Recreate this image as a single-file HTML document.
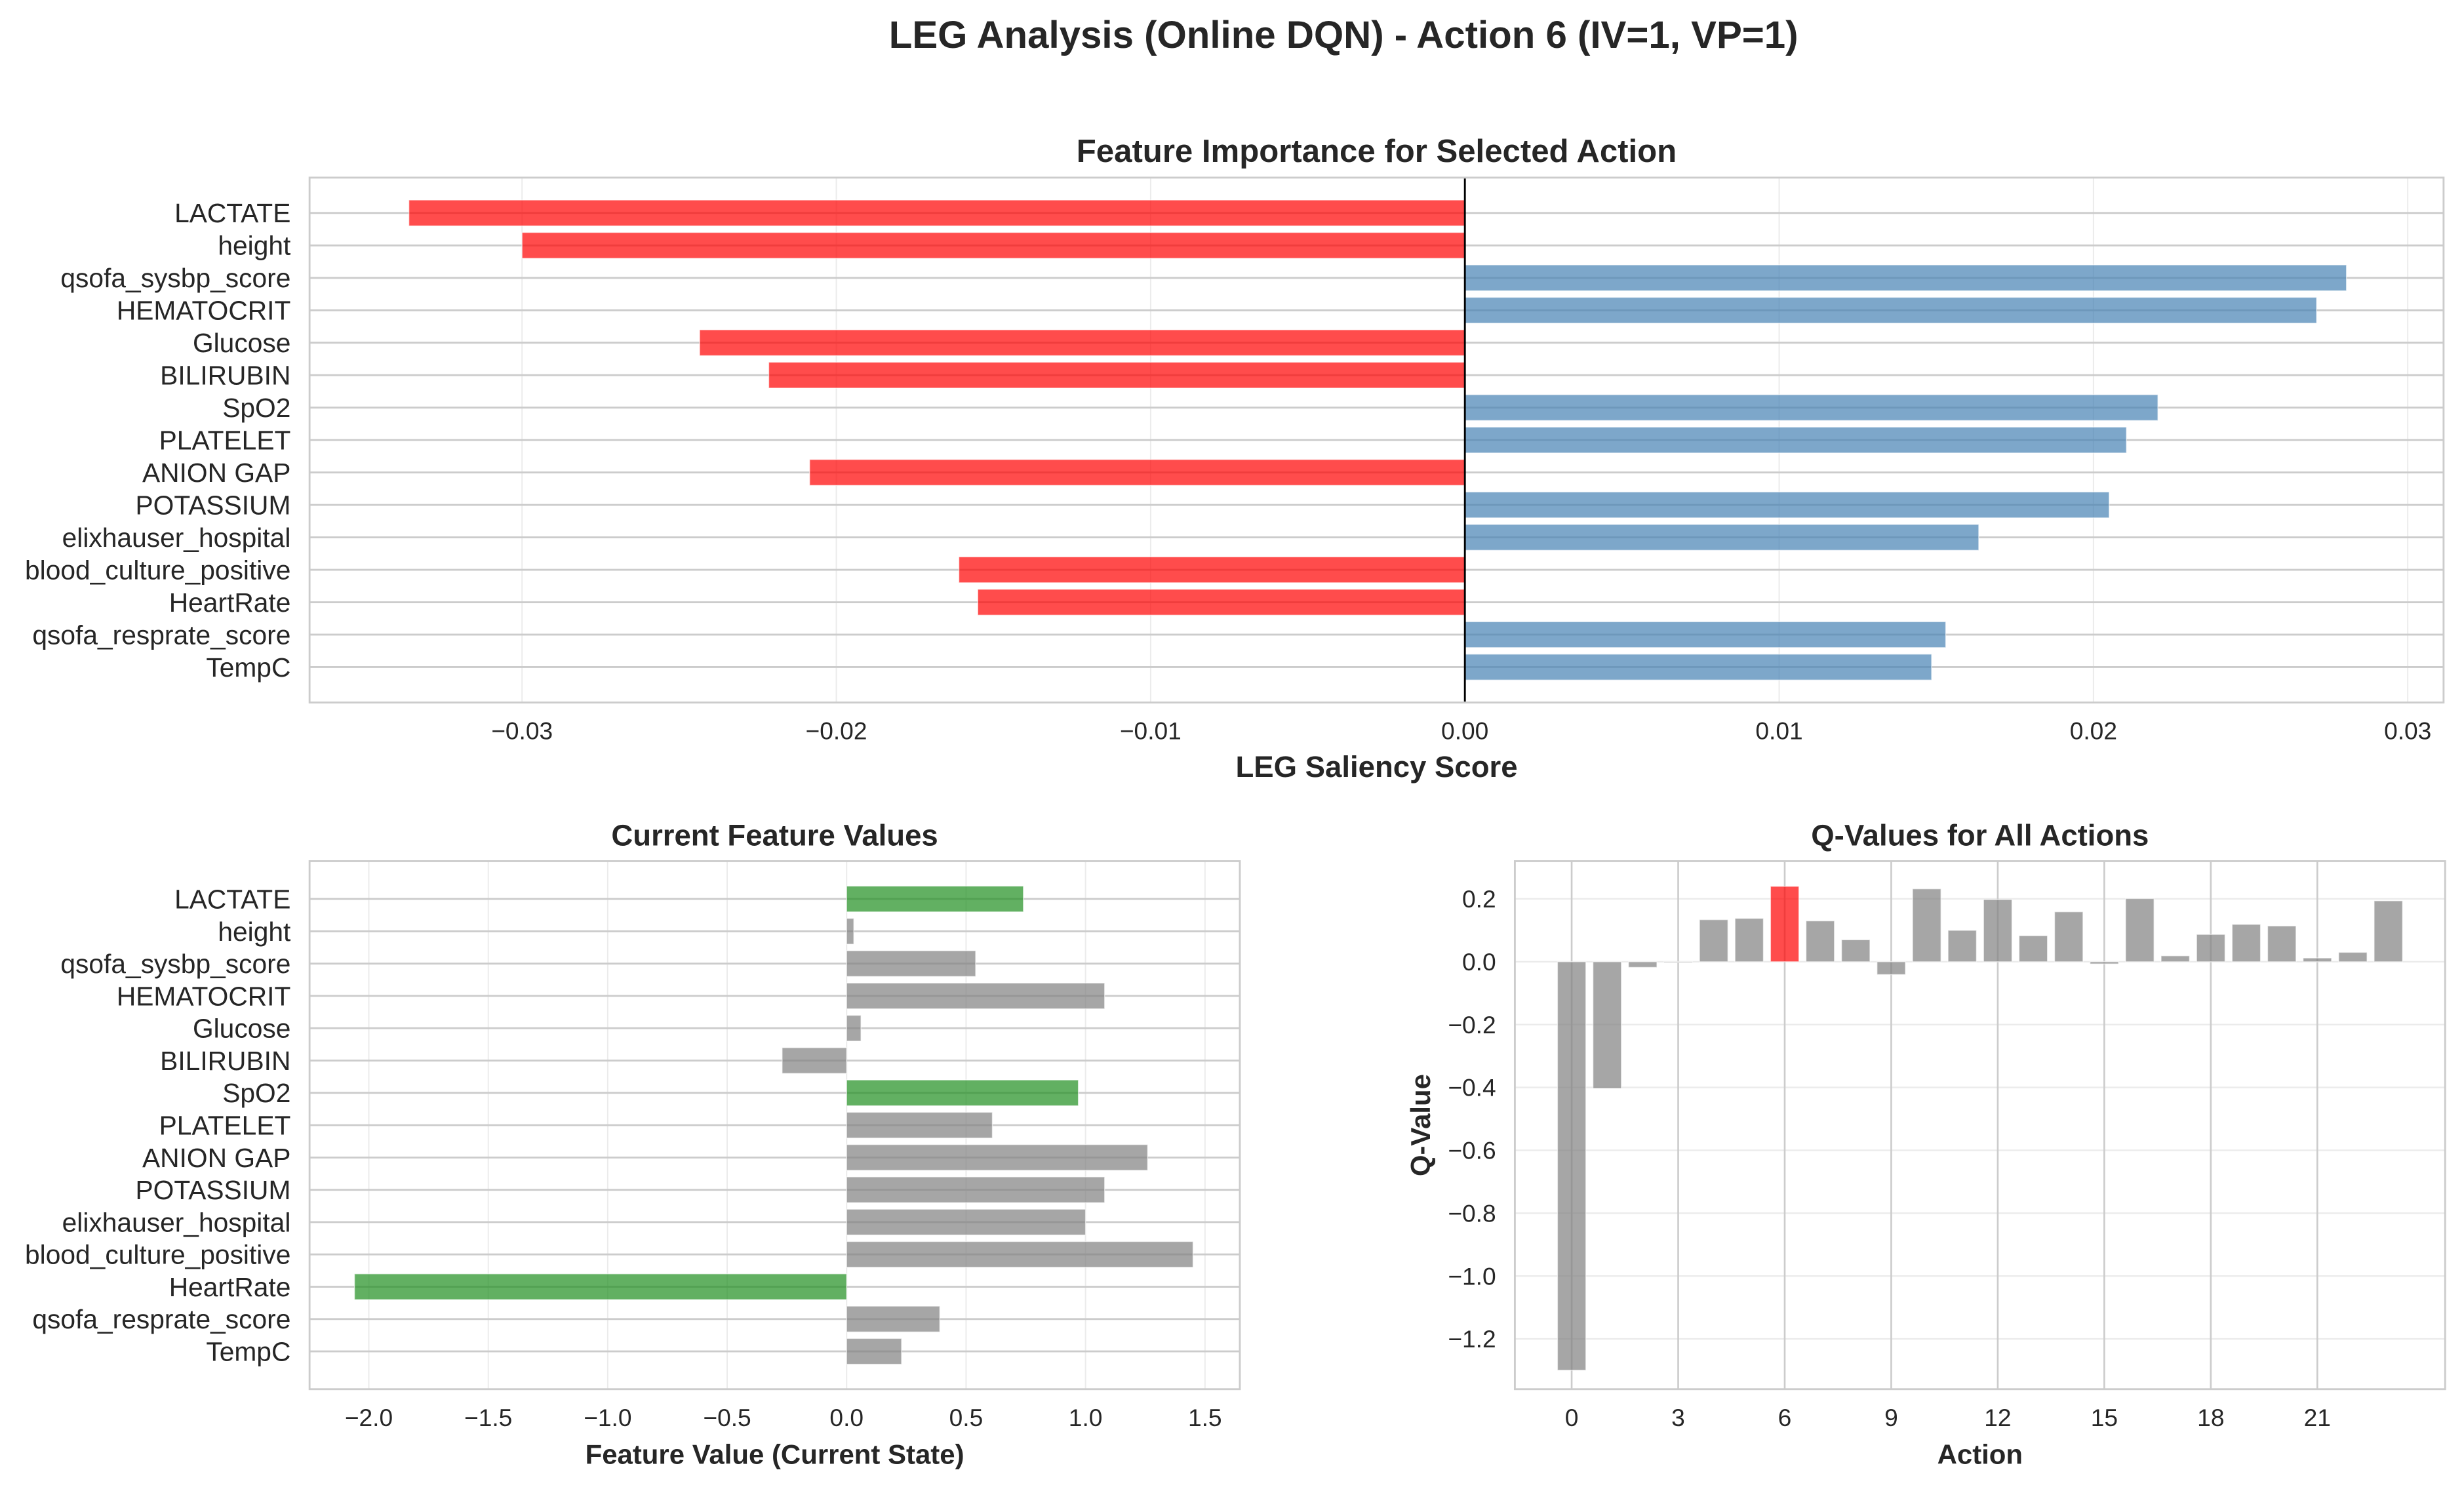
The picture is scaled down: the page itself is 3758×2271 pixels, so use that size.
<!DOCTYPE html>
<html><head><meta charset="utf-8"><style>
html,body{margin:0;padding:0;background:#fff}
svg{display:block;font-family:"Liberation Sans",Arial,sans-serif}
</style></head><body>
<svg id="fig" xmlns="http://www.w3.org/2000/svg" width="3758" height="2271" viewBox="0 0 1568 947.5">
<rect width="1568" height="947.5" fill="#fff"/>
<text x="855" y="30.5" text-anchor="middle" font-size="24.3" font-weight="bold" fill="#262626">LEG Analysis (Online DQN) - Action 6 (IV=1, VP=1)</text>
<g id="top"></g>
<g id="bl"></g>
<g id="br"></g>
</svg>
<script>
const features = ["LACTATE","height","qsofa_sysbp_score","HEMATOCRIT","Glucose","BILIRUBIN","SpO2","PLATELET","ANION GAP","POTASSIUM","elixhauser_hospital","blood_culture_positive","HeartRate","qsofa_resprate_score","TempC"];
const saliency = [-0.0336,-0.0300,0.02805,0.0271,-0.02435,-0.02215,0.02205,0.02105,-0.02085,0.0205,0.01635,-0.0161,-0.0155,0.0153,0.01485];
const featureValues = [0.74,0.03,0.54,1.08,0.06,-0.27,0.97,0.61,1.26,1.08,1.00,1.45,-2.06,0.39,0.23];
const highlighted = ["LACTATE","SpO2","HeartRate"];
const qValues = [-1.30,-0.403,-0.018,-0.003,0.134,0.138,0.24,0.13,0.07,-0.041,0.232,0.10,0.198,0.083,0.159,-0.007,0.201,0.019,0.087,0.119,0.114,0.012,0.030,0.194];
const selectedAction = 6;
const salTicks = [-0.03,-0.02,-0.01,0,0.01,0.02,0.03];
const salTickLabels = ["\u22120.03","\u22120.02","\u22120.01","0.00","0.01","0.02","0.03"];
const fvTicks = [-2,-1.5,-1,-0.5,0,0.5,1,1.5];
const fvTickLabels = ["\u22122.0","\u22121.5","\u22121.0","\u22120.5","0.0","0.5","1.0","1.5"];
const qTicks = [0.2,0,-0.2,-0.4,-0.6,-0.8,-1.0,-1.2];
const qTickLabels = ["0.2","0.0","\u22120.2","\u22120.4","\u22120.6","\u22120.8","\u22121.0","\u22121.2"];
const actionTicks = [0,3,6,9,12,15,18,21];

const NS="http://www.w3.org/2000/svg";
const YT=17, XT=15.5;
function mk(parent,tag,attrs,text){const e=document.createElementNS(NS,tag);for(const k in attrs)e.setAttribute(k,attrs[k]);if(text!==undefined)e.textContent=text;parent.appendChild(e);return e;}

function hbarChart(g,box,xmin,xmax,margin,vals,colorFn,ticks,tickLabels,title,xlabel,zeroLine,names){
  const {l,r,t,b}=box;
  const sx=v=>l+(v-xmin)/(xmax-xmin)*(r-l);
  const n=features.length;
  const ymin=-margin,ymax=n-1+margin;
  const sy=i=>t+(i-ymin)/(ymax-ymin)*(b-t);
  const bg=mk(g,'rect',{x:l,y:t,width:r-l,height:b-t,fill:'#fff'});
  
  
  ticks.forEach((v,i)=>{
    const x=sx(v);
    const gl=mk(g,'line',{x1:x,x2:x,y1:t,y2:b,stroke:'#ebebeb','stroke-width':0.8});
    
    
    const tl=mk(g,'text',{x:x,y:b+23.5,'text-anchor':'middle','font-size':XT,fill:'#262626'},tickLabels[i]);
    
    
  });
  features.forEach((f,i)=>{
    const y=sy(i);
    const gl=mk(g,'line',{x1:l,x2:r,y1:y,y2:y,stroke:'#cccccc','stroke-width':1.2});
    
    
    const tl=mk(g,'text',{x:l-12,y:y+6,'text-anchor':'end','font-size':YT,fill:'#262626'},f);
    
    
  });
  const h=(sy(1)-sy(0))*0.8;
  vals.forEach((v,i)=>{
    const x0=sx(0),x1=sx(v);
    const rc=mk(g,'rect',{x:Math.min(x0,x1),y:sy(i)-h/2,width:Math.abs(x1-x0),height:h,fill:colorFn(v,i),'fill-opacity':0.7,stroke:'#fff','stroke-opacity':0.6,'stroke-width':0.6});
    
    
  });
  if(zeroLine){const z=mk(g,'line',{x1:sx(0),x2:sx(0),y1:t,y2:b,stroke:'#000','stroke-width':1.2});
    
    }
  const fr=mk(g,'rect',{x:l,y:t,width:r-l,height:b-t,fill:'none',stroke:'#cccccc','stroke-width':1.2});
  
  
  const ti=mk(g,'text',{x:(l+r)/2,y:title.y,'text-anchor':'middle','font-size':title.size,'font-weight':'bold',fill:'#262626'},title.text);
  
  
  const xl=mk(g,'text',{x:(l+r)/2,y:b+47.5,'text-anchor':'middle','font-size':xlabel.size,'font-weight':'bold',fill:'#262626'},xlabel.text);
  
  
}

hbarChart(document.getElementById('top'),{l:197,r:1555,t:113,b:447},-0.03676,0.03114,1.09,saliency,
  v=>v<0?'#ff0000':'#4682b4',salTicks,salTickLabels,{text:'Feature Importance for Selected Action',size:20.5,y:103},
  {text:'LEG Saliency Score',size:19},true,'saliency');

hbarChart(document.getElementById('bl'),{l:197,r:789,t:548,b:884},-2.248,1.646,1.17,featureValues,
  (v,i)=>highlighted.includes(features[i])?'#1f8f1f':'#808080',fvTicks,fvTickLabels,{text:'Current Feature Values',size:19,y:538},
  {text:'Feature Value (Current State)',size:17.5},false,'feature-value');

(function(){
  const g=document.getElementById('br');
  const l=964,r=1556,t=548,b=884;
  const xmin=-1.6,xmax=24.6,ymin=-1.36,ymax=0.32;
  const sx=v=>l+(v-xmin)/(xmax-xmin)*(r-l);
  const sy=v=>t+(ymax-v)/(ymax-ymin)*(b-t);
  const bg=mk(g,'rect',{x:l,y:t,width:r-l,height:b-t,fill:'#fff'});
  
  
  qTicks.forEach((v,i)=>{
    const y=sy(v);
    const gl=mk(g,'line',{x1:l,x2:r,y1:y,y2:y,stroke:'#ebebeb','stroke-width':1});
    
    
    const tl=mk(g,'text',{x:l-12,y:y+5.5,'text-anchor':'end','font-size':XT,fill:'#262626'},qTickLabels[i]);
    
    
  });
  actionTicks.forEach(v=>{
    const x=sx(v);
    const gl=mk(g,'line',{x1:x,x2:x,y1:t,y2:b,stroke:'#cccccc','stroke-width':1.1});
    
    
    const tl=mk(g,'text',{x:x,y:b+23.5,'text-anchor':'middle','font-size':XT,fill:'#262626'},String(v));
    
    
  });
  const w=(sx(1)-sx(0))*0.8;
  qValues.forEach((v,i)=>{
    const y0=sy(0),y1=sy(v);
    const sel=i===selectedAction;
    const rc=mk(g,'rect',{x:sx(i)-w/2,y:Math.min(y0,y1),width:w,height:Math.max(Math.abs(y1-y0),0.6),fill:sel?'#ff0000':'#808080','fill-opacity':0.7,stroke:'#fff','stroke-opacity':0.6,'stroke-width':0.6});
    
    
  });
  const fr=mk(g,'rect',{x:l,y:t,width:r-l,height:b-t,fill:'none',stroke:'#cccccc','stroke-width':1.2});
  
  
  const ti=mk(g,'text',{x:(l+r)/2,y:538,'text-anchor':'middle','font-size':19,'font-weight':'bold',fill:'#262626'},'Q-Values for All Actions');
  
  
  const xl=mk(g,'text',{x:(l+r)/2,y:b+47.5,'text-anchor':'middle','font-size':17.5,'font-weight':'bold',fill:'#262626'},'Action');
  
  
  const yl=mk(g,'text',{x:0,y:0,'text-anchor':'middle','font-size':17.5,'font-weight':'bold',fill:'#262626',transform:'translate(910,716) rotate(-90)'},'Q-Value');
  
  
})();
</script>
</body></html>
